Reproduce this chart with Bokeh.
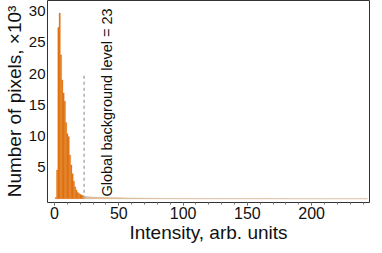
import numpy as np
from bokeh.plotting import figure
from bokeh.models import FixedTicker
from bokeh.core.properties import value
from bokeh.embed import file_html
from bokeh.resources import INLINE

# Histogram of pixel intensities (counts in thousands), bin width 1
main_bins = [1, 2, 3, 4, 5, 6, 7, 8, 9, 10, 11, 12, 13, 14, 15, 16, 17, 18, 19, 20, 21, 22, 23]
main_counts = [0.2, 4.6, 27.4, 29.7, 23.0, 19.0, 16.9, 15.6, 12.2, 10.4, 9.9, 7.0, 5.4, 4.0,
               2.8, 1.9, 1.4, 1.0, 0.85, 0.7, 0.6, 0.5, 0.42]

tail_start = 24
tail_counts = [
    0.36, 0.33, 0.31, 0.29, 0.27, 0.26, 0.25, 0.24, 0.23, 0.22,
    0.22, 0.21, 0.20, 0.20, 0.19, 0.19, 0.18, 0.18, 0.17, 0.17,
    0.16, 0.16, 0.16, 0.15, 0.15, 0.15, 0.14, 0.14, 0.14, 0.13,
    0.13, 0.13, 0.12, 0.12, 0.12, 0.11, 0.11, 0.11, 0.10, 0.10,
    0.10, 0.10, 0.09, 0.09, 0.09, 0.08, 0.08, 0.08, 0.08, 0.07,
    0.07, 0.07, 0.07, 0.06, 0.06, 0.06, 0.06, 0.06, 0.05, 0.05,
    0.05, 0.05, 0.05, 0.05, 0.04, 0.04, 0.04, 0.05, 0.04, 0.04,
    0.04, 0.03, 0.04, 0.04, 0.03, 0.04, 0.03, 0.03, 0.04, 0.03,
    0.03, 0.04, 0.03, 0.03, 0.0, 0.03, 0.03, 0.04, 0.03, 0.03,
    0.03, 0.0, 0.03, 0.03, 0.03, 0.03, 0.0, 0.03, 0.03, 0.03,
    0.03, 0.03, 0.0, 0.03, 0.03, 0.03, 0.03, 0.03, 0.03, 0.03,
    0.0, 0.03, 0.03, 0.03, 0.03, 0.03, 0.03, 0.0, 0.03, 0.03,
    0.03, 0.03, 0.03, 0.03, 0.03, 0.03, 0.03, 0.03, 0.03, 0.03,
    0.03, 0.03, 0.03, 0.03, 0.03, 0.03, 0.03, 0.03, 0.03, 0.03,
    0.03, 0.03, 0.03, 0.03, 0.03, 0.03, 0.03, 0.0, 0.0, 0.03,
    0.0, 0.03, 0.03, 0.03, 0.03, 0.03, 0.0, 0.03, 0.03, 0.0,
    0.0, 0.03, 0.0, 0.0, 0.03, 0.0, 0.0, 0.03, 0.0, 0.0,
    0.0, 0.0, 0.0, 0.03, 0.0, 0.03, 0.0, 0.0, 0.03, 0.0,
    0.0, 0.0, 0.03, 0.0, 0.0, 0.0, 0.03, 0.0, 0.0, 0.0,
    0.0, 0.0, 0.03, 0.0, 0.0, 0.03, 0.0, 0.0, 0.0, 0.03,
    0.0, 0.0, 0.03, 0.0, 0.0, 0.03, 0.0, 0.0, 0.03, 0.0,
    0.0, 0.03, 0.0, 0.0, 0.03, 0.0, 0.0, 0.03, 0.0, 0.0,
]
tail_bins = list(range(tail_start, tail_start + len(tail_counts)))

background_level = 23
marker_top = 20.0
x_ticks = [0, 50, 100, 150, 200]
x_minor = [0, 10, 20, 30, 40, 50, 60, 70, 80, 90, 100, 110, 120, 130, 140, 150,
           160, 170, 180, 190, 200, 210, 220, 230, 240]
y_ticks = [5, 10, 15, 20, 25, 30]

FONT = "Liberation Sans"
ORANGE = "#e8760a"
TXT = "#111111"

p = figure(width=372, height=245, output_backend="svg", toolbar_location=None,
           x_range=(-5.5, 245), y_range=(-0.6, 31.7),
           min_border_left=36, min_border_right=3, min_border_top=0, min_border_bottom=36)

p.vbar(x=main_bins, top=main_counts, width=1.0, bottom=0,
       fill_color=ORANGE, line_color="#d06c1c", line_width=0.4, line_alpha=0.7)
p.vbar(x=tail_bins, top=tail_counts, width=1.0, bottom=0,
       fill_color="#d9a676", line_color="#dcc0a2", line_width=0.6)

p.segment(x0=[background_level], y0=[0], x1=[background_level], y1=[marker_top],
          line_color="#b0b0b0", line_width=1.6, line_dash="3 3")

p.text(x=[41], y=[0.35], text=["Global background level = " + str(background_level)],
       angle=np.pi / 2, text_align="left", text_baseline="alphabetic",
       text_font=value(FONT), text_font_size="14.5px", text_color=TXT)

p.grid.visible = False
p.outline_line_color = "#333333"
p.outline_line_width = 1
p.background_fill_color = "white"
p.border_fill_color = "white"

xa = p.xaxis[0]
xa.ticker = FixedTicker(ticks=x_ticks, minor_ticks=x_minor)
xa.axis_label = "Intensity, arb. units"
xa.axis_line_color = None
xa.major_tick_in = 0
xa.major_tick_out = 3
xa.minor_tick_in = 0
xa.minor_tick_out = 2
xa.major_tick_line_color = "#555555"
xa.minor_tick_line_color = "#777777"
xa.major_label_text_font = FONT
xa.major_label_text_font_size = "16px"
xa.major_label_text_color = TXT
xa.major_label_standoff = 1
xa.axis_label_text_font = FONT
xa.axis_label_text_font_size = "19px"
xa.axis_label_text_font_style = "normal"
xa.axis_label_text_color = TXT
xa.axis_label_standoff = 0

ya = p.yaxis[0]
ya.ticker = FixedTicker(ticks=y_ticks, minor_ticks=[])
ya.axis_label = "Number of pixels, \u00d710\u00b3"
ya.axis_line_color = None
ya.major_tick_in = 0
ya.major_tick_out = 0
ya.minor_tick_in = 0
ya.minor_tick_out = 0
ya.major_label_text_font = FONT
ya.major_label_text_font_size = "15px"
ya.major_label_text_color = TXT
ya.major_label_standoff = 2
ya.axis_label_text_font = FONT
ya.axis_label_text_font_size = "19px"
ya.axis_label_text_font_style = "normal"
ya.axis_label_text_color = TXT
ya.axis_label_standoff = 1

open("out.html", "w").write(file_html(p, INLINE))
